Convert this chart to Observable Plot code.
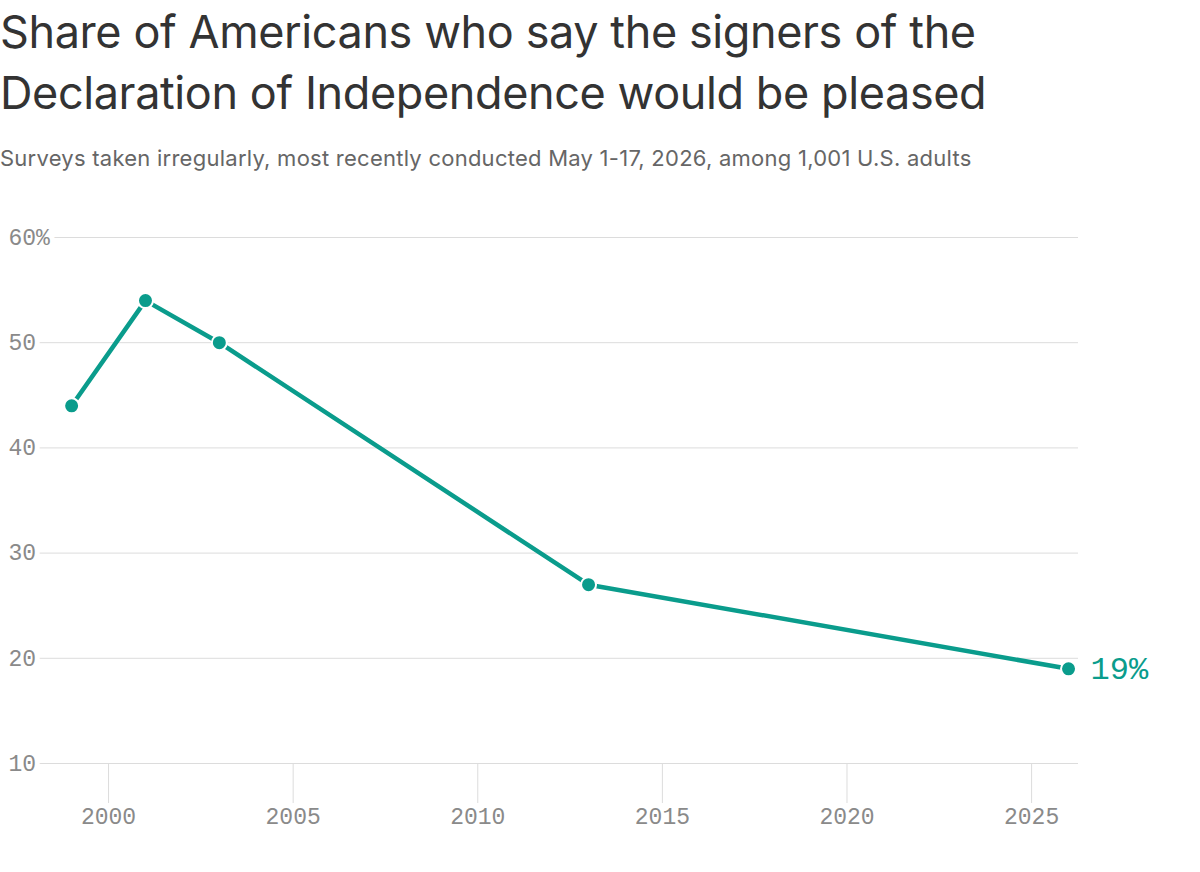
<!DOCTYPE html>
<html>
<head>
<meta charset="utf-8">
<script src="https://cdn.jsdelivr.net/npm/d3@7"></script>
<script src="https://cdn.jsdelivr.net/npm/@observablehq/plot@0.6"></script>
<style>
  html, body { margin: 0; padding: 0; background: #fff; }
  body { width: 1200px; height: 872px; overflow: hidden; }
  #title { font-family: Inter, "Noto Sans", sans-serif; font-weight: 400; font-size: 45px; line-height: 61px; color: #333; margin: 0; padding: 0; position: absolute; left: 0; top: 1px; letter-spacing: -0.4px; }
  #subtitle { font-family: Inter, "Noto Sans", sans-serif; font-weight: 400; font-size: 22px; color: #666; position: absolute; left: 0; top: 145px; letter-spacing: 0.25px; }
  #chart { position: absolute; left: 0; top: 200px; }
</style>
</head>
<body>
<div id="title">Share of Americans who say the signers of the<br>Declaration of Independence would be pleased</div>
<div id="subtitle">Surveys taken irregularly, most recently conducted May 1-17, 2026, among 1,001 U.S. adults</div>
<div id="chart"></div>
<script>
const years = [1999, 2001, 2003, 2013, 2026];
const shares = [44, 54, 50, 27, 19];
const yTicks = [10, 20, 30, 40, 50, 60];
const xTicks = [2000, 2005, 2010, 2015, 2020, 2025];
const endLabel = "19%";

const data = years.map((year, i) => ({year, share: shares[i]}));
const last = data[data.length - 1];
const teal = "#0a9c8c";
const mono = "'Liberation Mono', 'DejaVu Sans Mono', monospace";

const chart = Plot.plot({
  width: 1200,
  height: 672,
  marginLeft: 8,
  marginRight: 122,
  marginTop: 37,
  marginBottom: 109,
  style: {fontFamily: mono, background: "#fff", overflow: "visible"},
  x: {domain: [1997.29, 2026.27], axis: null},
  y: {domain: [10, 60], axis: null},
  marks: [
    Plot.ruleY(yTicks, {stroke: "#dcdcdc", strokeWidth: 1}),
    Plot.text(yTicks, {
      x: 1997.29, y: d => d, text: d => d === 60 ? `${d}%` : String(d),
      textAnchor: "start", fontSize: 23, fill: "#8a8a8a",
      stroke: "#fff", strokeWidth: 10, paintOrder: "stroke", fontFamily: mono
    }),
    Plot.axisX({ticks: xTicks, tickSize: 40, tickPadding: 4, fontSize: 23, color: "#8a8a8a", stroke: "#dcdcdc", tickFormat: d => String(d), fontFamily: mono, label: null}),
    Plot.line(data, {x: "year", y: "share", stroke: teal, strokeWidth: 4.5}),
    Plot.dot(data, {x: "year", y: "share", r: 7.5, fill: teal, stroke: "#fff", strokeWidth: 2}),
    Plot.text([last], {x: "year", y: "share", text: () => endLabel, dx: 22, textAnchor: "start", fontSize: 32, fill: teal, fontFamily: mono})
  ]
});
document.getElementById("chart").appendChild(chart);
</script>
</body>
</html>
